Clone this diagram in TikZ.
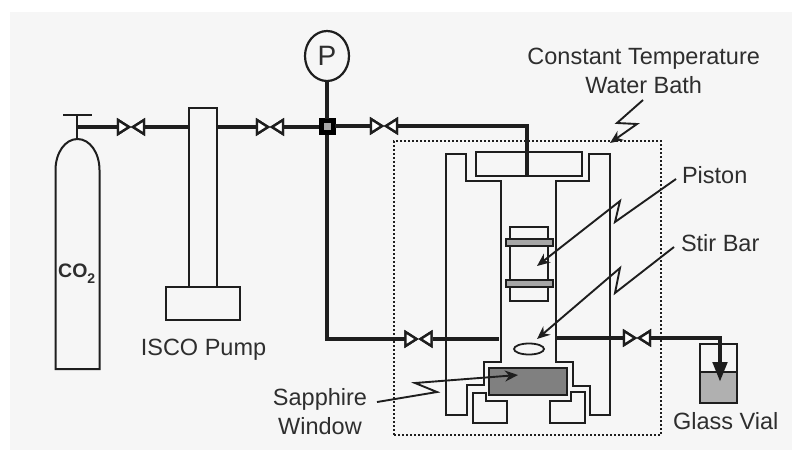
\documentclass[tikz,border=0pt]{standalone}
\usepackage{fontspec}
\setmainfont{Liberation Sans}
\usetikzlibrary{arrows.meta,shapes.geometric}
\definecolor{ink}{HTML}{1E1E1E}
\definecolor{txt}{HTML}{2E2E2E}
\definecolor{paper}{HTML}{F6F6F6}
\tikzset{
  wall/.style={draw=ink,line width=2pt,line join=miter},
  pipe/.style={draw=ink,line width=4.6pt,line join=miter},
  valvetri/.style={draw=ink,line width=2.4pt,fill=white,line join=miter},
  callout/.style={draw=ink,line width=1.9pt,-{Stealth[length=13pt,width=11pt]}},
  lab/.style={text=txt,inner sep=0pt,outer sep=0pt,anchor=base,font=\fontsize{23.5}{23.5}\selectfont},
  multilab/.style={text=txt,inner sep=0pt,outer sep=0pt,align=center,font=\fontsize{23.5}{29}\selectfont},
  boxnode/.style={wall,inner sep=0pt,outer sep=0pt,anchor=north west,fill=paper},
  bandnode/.style={draw=ink,line width=1.8pt,fill=gray!70,inner sep=0pt,outer sep=0pt,anchor=north west,minimum width=47pt,minimum height=7pt},
}
\newcommand{\valvesym}[3]{%
  \coordinate (#1-l) at (#2-14,#3);
  \coordinate (#1-r) at (#2+14,#3);
  \draw[valvetri] (#2-13,#3-7) -- (#2-2,#3) -- (#2-13,#3+7) -- cycle;
  \draw[valvetri] (#2+13,#3-7) -- (#2+2,#3) -- (#2+13,#3+7) -- cycle;
}
\begin{document}
\begin{tikzpicture}[x=1pt,y=-1pt]
\useasboundingbox (0,0) rectangle (792,450);
\fill[white] (0,0) rectangle (792,450);
\fill[paper] (10,12) rectangle (792,450);

% water bath
\node[draw=ink,line width=2.6pt,dash pattern=on 2.4pt off 1.6pt,inner sep=0pt,outer sep=0pt,anchor=north west,minimum width=267pt,minimum height=294pt] (bath) at (394,141) {};

% cylinder
\coordinate (valvestem) at (77,139);
\coordinate (tbar) at (77,114.5);
\coordinate (tl) at (63,114.5);
\coordinate (tr) at (92,114.5);
\draw[wall] (tbar) -- (valvestem);
\draw[wall] (tl) -- (tr);
\draw[wall,fill=paper] (55.5,369) -- (55.5,170) .. controls (55.5,153) and (65,139) .. (77.5,139) .. controls (90,139) and (99.5,153) .. (99.5,170) -- (99.5,369) -- cycle;
\node[text=txt,inner sep=0pt,anchor=base west,font=\bfseries\fontsize{19.5}{19.5}\selectfont] (co2) at (58,277) {CO\raisebox{-6pt}{\fontsize{14}{14}\selectfont 2}};

% pump
\node[boxnode,minimum width=28pt,minimum height=179pt] (column) at (189,108) {};
\node[boxnode,minimum width=74pt,minimum height=33pt] (base) at (166,286.5) {};
\node[lab] (isco) at (203.5,355) {ISCO Pump};

% pressure gauge
\node[draw=ink,line width=2.2pt,ellipse,inner sep=0pt,outer sep=0pt,minimum width=44pt,minimum height=50pt,fill=paper,text=txt,font=\fontsize{28}{28}\selectfont] (gauge) at (327,56) {P};

% pipe points
\coordinate (start) at (77,127);
\coordinate (cornera) at (527,126);
\coordinate (capin) at (527,176);
\coordinate (cornerb) at (327,339);
\coordinate (cellin) at (499,339);
\coordinate (cellout) at (557,338);
\coordinate (cornerc) at (720,338);
\coordinate (vialtip) at (720,382);

% vial
\node[draw=ink,line width=2pt,fill=paper,inner sep=0pt,outer sep=0pt,anchor=north west,minimum width=37pt,minimum height=59pt] (vial) at (700,344) {};
\node[draw=ink,line width=2pt,fill=gray!62,inner sep=0pt,outer sep=0pt,anchor=north west,minimum width=37pt,minimum height=31pt] (liquid) at (700,372) {};

% cell
\draw[wall] (484,362) -- (501,362) -- (501,181) -- (466,181) -- (466,154) -- (446,154) -- (446,415) -- (467,415) -- (467,385) -- (484,385) -- cycle;
\draw[wall] (573,362) -- (556,362) -- (556,181) -- (589,181) -- (589,154) -- (610,154) -- (610,415) -- (590,415) -- (590,386) -- (573,386) -- cycle;
\node[boxnode,minimum width=106pt,minimum height=24pt] (cap) at (476,152) {};
\node[draw=ink,line width=2.4pt,fill=gray,inner sep=0pt,outer sep=0pt,anchor=north west,minimum width=78pt,minimum height=27pt] (window) at (489,368) {};
\draw[wall] (473,393) -- (486,393) -- (486,401) -- (507,401) -- (507,423) -- (473,423) -- cycle;
\draw[wall] (585,392) -- (571,392) -- (571,401) -- (550,401) -- (550,423) -- (585,423) -- cycle;
\node[boxnode,minimum width=38pt,minimum height=74pt] (piston) at (510,227) {};
\node[bandnode] (banda) at (506,239) {};
\node[bandnode] (bandb) at (506,280) {};
\node[draw=ink,line width=1.8pt,ellipse,inner sep=0pt,outer sep=0pt,minimum width=30pt,minimum height=11pt] (stir) at (529,349) {};

% pipe runs
\node[draw=black,fill=black,inner sep=0pt,outer sep=0pt,minimum size=16pt] (junction) at (327,126.5) {};
\valvesym{va}{131}{127}
\valvesym{vb}{270}{127}
\valvesym{vc}{384}{126}
\valvesym{vd}{418.5}{339}
\valvesym{ve}{637}{338}
\draw[pipe] (gauge.south) -- (junction.north);
\draw[pipe] (start) -- (va-l);
\draw[pipe] (va-r) -- (column.west |- va-r);
\draw[pipe] (column.east |- vb-l) -- (vb-l);
\draw[pipe] (vb-r) -- (junction.west |- vb-r);
\draw[pipe] (junction.east |- vc-l) -- (vc-l);
\draw[pipe] (vc-r) -- (cornera) -- (capin);
\draw[pipe] (junction.south) -- (cornerb) -- (vd-l);
\draw[pipe] (vd-r) -- (cellin);
\draw[pipe] (cellout) -- (ve-l);
\draw[pipe,-{Triangle[length=20pt,width=14pt]}] (ve-r) -- (cornerc) -- (vialtip);
\valvesym{va}{131}{127}
\valvesym{vb}{270}{127}
\valvesym{vc}{384}{126}
\valvesym{vd}{418.5}{339}
\valvesym{ve}{637}{338}
\node[fill=gray!70,inner sep=0pt,minimum size=7pt] (junctioncore) at (junction.center) {};

% labels
\node[multilab] (bathlabel) at (643.7,71) {Constant Temperature\\Water Bath};
\node[lab,anchor=base west] (pistonlabel) at (682,183) {Piston};
\node[lab,anchor=base west] (stirlabel) at (681,251) {Stir Bar};
\node[lab,anchor=base west] (viallabel) at (673,429) {Glass Vial};
\node[multilab] (sapphirelabel) at (320,412) {Sapphire\\Window};

% callouts
\coordinate (bathstart) at (643,100);
\coordinate (bathtip) at (610,143);
\draw[callout] (bathstart) -- (617,123) -- (637,124) -- (bathtip);
\coordinate (pistonstart) at (676,179);
\coordinate (pistontip) at (537,266);
\draw[callout] (pistonstart) -- (615,222) -- (620,201) -- (pistontip);
\coordinate (stirstart) at (674,247);
\coordinate (stirtip) at (537,339);
\draw[callout] (stirstart) -- (615,293) -- (620,268) -- (stirtip);
\coordinate (sapphirestart) at (377,402);
\coordinate (sapphiretip) at (518,375);
\draw[callout] (sapphirestart) -- (437,392) -- (415,383) -- (sapphiretip);
\end{tikzpicture}
\end{document}
